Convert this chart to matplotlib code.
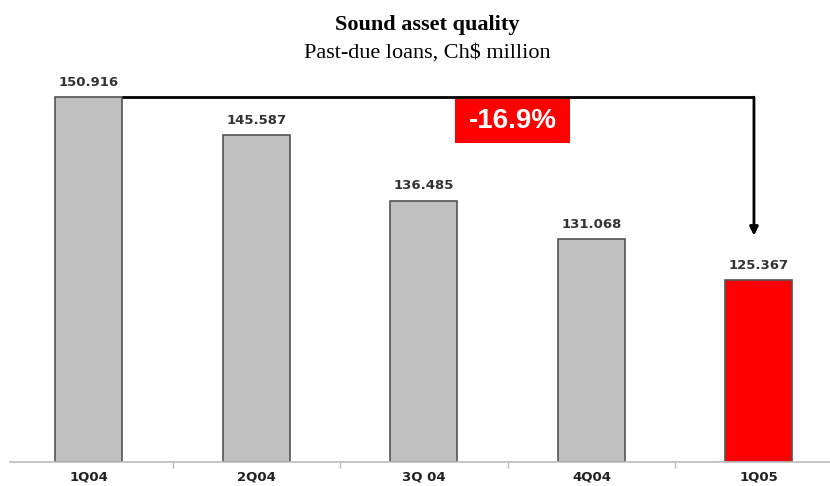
import matplotlib
matplotlib.use("Agg")
import matplotlib.pyplot as plt
from matplotlib.patches import Rectangle

# ================= DATA =================
quarters = ["1Q04", "2Q04", "3Q 04", "4Q04", "1Q05"]
past_due = [150.916, 145.587, 136.485, 131.068, 125.367]
change_label = "-16.9%"
# ========================================

GRAY = "#c0c0c0"
RED = "#ff0000"
EDGE = "#555555"

fig = plt.figure(figsize=(8.30, 4.86), dpi=100)
ax = fig.add_axes([10 / 830, 24 / 486, 820 / 830, 402 / 486])

x = list(range(len(quarters)))
colors = [GRAY] * (len(quarters) - 1) + [RED]
ax.bar(x, [v - 100 for v in past_due], bottom=100, width=0.4,
       color=colors, edgecolor=EDGE, linewidth=1.2, zorder=2)

for xi, v in zip(x, past_due):
    ax.text(xi, v + 2.1, f"{v:.3f}", ha="center", va="center",
            fontsize=9.5, fontweight="bold", color="#333333",
            family="DejaVu Sans")

# bracket from first bar to last bar
ax.plot([0.2, 3.97], [past_due[0], past_due[0]], color="black", lw=2, zorder=3,
        solid_capstyle="butt")
ax.annotate("", xy=(3.97, 131.6), xytext=(3.97, past_due[0]),
            arrowprops=dict(arrowstyle="-|>,head_width=0.25,head_length=0.5",
                            color="black", lw=2, shrinkA=0, shrinkB=0))
ax.add_patch(Rectangle((2.185, 144.55), 0.687, 6.1, fc=RED, ec="none", zorder=4))
ax.text(2.528, 147.6, change_label, ha="center", va="center",
        fontsize=20, fontweight="bold", color="white", family="Liberation Sans",
        zorder=5)

ax.set_xlim(-0.4716, 4.424)
ax.set_ylim(100, 156.1)
ax.set_xticks(x)
ax.set_xticklabels(quarters, fontsize=9.5, fontweight="bold", family="DejaVu Sans",
                   color="#222222")
ax.set_xticks([0.5, 1.5, 2.5, 3.5], minor=True)
ax.tick_params(axis="x", which="major", length=0, pad=6)
ax.tick_params(axis="x", which="minor", length=4, color="#bbbbbb", width=1)
ax.set_yticks([])
for s in ["top", "right", "left"]:
    ax.spines[s].set_visible(False)
ax.spines["bottom"].set_color("#bbbbbb")
ax.spines["bottom"].set_linewidth(1.2)

fig.text(427 / 830, 1 - 25 / 486, "Sound asset quality", ha="center", va="center",
         fontsize=16, fontweight="bold", family="Liberation Serif")
fig.text(427 / 830, 1 - 53 / 486, "Past-due loans, Ch$ million", ha="center",
         va="center", fontsize=16, family="Liberation Serif")

fig.savefig("out.png", dpi=100)
